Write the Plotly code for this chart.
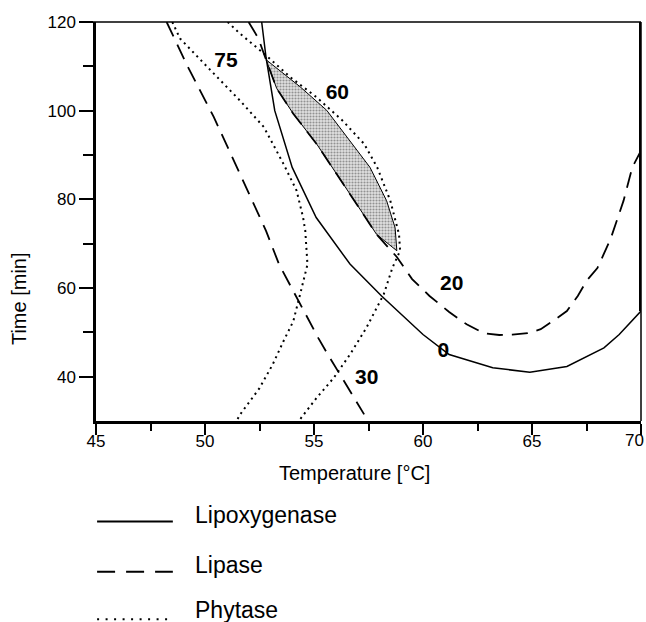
import plotly.graph_objects as go

# ---------------- data ----------------
lipox_T = [52.6, 52.7, 52.8, 53.2, 54.0, 55.1, 56.65, 58.1, 60.0, 61.2, 63.2, 64.9, 66.6, 68.3, 69.0, 70.0]
lipox_t = [120, 116, 112, 100, 87.2, 75.9, 65.4, 58.2, 49.5, 45.0, 42.0, 41.0, 42.3, 46.5, 49.5, 54.8]

lipase30_T = [48.24, 49.2, 50.4, 51.6, 52.8, 53.4, 54.2, 55.2, 55.6, 56.4, 57.3]
lipase30_t = [120, 110, 98.6, 85.7, 72.9, 65.3, 57.8, 48.7, 45.3, 38.9, 31.5]

lipase20_T = [52.0, 52.45, 52.8, 53.29, 54.05, 55.12, 56.04, 56.96, 57.87, 58.8, 59.5, 60.3, 61.2,
              62.0, 62.8, 63.5, 64.1, 64.8, 65.4, 66.0, 66.6, 67.1, 67.5, 68.0, 68.6, 69.2, 69.6, 70.0]
lipase20_t = [120, 116.3, 111.5, 105, 99.3, 92.5, 85.7, 78.9, 72.1, 67.0, 62.0, 58.2, 54.6,
              51.8, 49.8, 49.4, 49.5, 49.8, 50.7, 52.7, 54.8, 58.2, 61.6, 64.5, 71.0, 79.7, 87.2, 91.0]

phytase75_T = [48.5, 48.85, 50.1, 51.6, 52.7, 53.6, 54.2, 54.5, 54.6, 54.7, 54.4, 54.05, 53.6, 53.1, 52.5, 51.6, 51.45]
phytase75_t = [120, 116.3, 109.9, 102.3, 96.3, 88, 82, 75.9, 72.9, 65.3, 59.3, 52.5, 48, 42.7, 37.4, 31.4, 30]

phytase60_T = [51.04, 51.6, 52.7, 53.9, 55.1, 56.3, 57.3, 57.9, 58.5, 58.9, 58.95, 58.6, 58.2, 57.4, 56.65, 55.9, 55.1, 54.36, 54.3]
phytase60_t = [120, 117.4, 112.9, 107.6, 103.1, 97.8, 92.5, 87.2, 79.7, 72.1, 68.4, 64.6, 58.6, 51, 45, 39.7, 35.1, 30.6, 30]

region_T = [52.8, 54.36, 55.58, 56.65, 57.57, 58.33, 58.72, 58.8, 57.87, 56.96, 56.04, 55.12, 54.05, 53.29, 52.8]
region_t = [111.5, 105.4, 100.1, 93.3, 87.2, 79.7, 73.6, 68.4, 72.1, 78.9, 85.7, 92.5, 99.3, 105, 111.5]

edge_T = [70, 70]
edge_t = [54.8, 120]

label_text = ["75", "60", "20", "0", "30"]
label_T = [50.96, 56.07, 61.32, 60.93, 57.42]
label_t = [111.0, 103.85, 60.7, 45.55, 39.5]

x_ticks = [45, 50, 55, 60, 65, 70]
x_tick_text = ["45", "50", "55", "60", "65", ""]   # "70" placed separately (edge of page)
x_last_label = "70"
x_minor = [47.5, 52.5, 57.5, 62.5, 67.5]
y_ticks = [40, 60, 80, 100, 120]
y_minor = [50, 70, 90, 110]

legend_names = ["Lipoxygenase", "Lipase", "Phytase"]

# ---------------- figure ----------------
FONT = "Liberation Sans, Arial, sans-serif"
fig = go.Figure()

fig.add_trace(go.Scatter(
    x=region_T, y=region_t, mode="lines", fill="toself",
    fillcolor="#d0d0d0",
    fillpattern=dict(shape=".", fgcolor="#444444", bgcolor="#e0e0e0", size=3, solidity=0.4),
    line=dict(color="black", width=1), hoverinfo="skip", showlegend=False))

fig.add_trace(go.Scatter(x=lipox_T, y=lipox_t, mode="lines",
                         line=dict(color="black", width=1.5), showlegend=False))
fig.add_trace(go.Scatter(x=lipase30_T, y=lipase30_t, mode="lines",
                         line=dict(color="black", width=1.8, dash="16px,9px"), showlegend=False))
fig.add_trace(go.Scatter(x=lipase20_T, y=lipase20_t, mode="lines",
                         line=dict(color="black", width=1.8, dash="16px,9px"), showlegend=False))
fig.add_trace(go.Scatter(x=phytase75_T, y=phytase75_t, mode="lines",
                         line=dict(color="black", width=2, dash="2px,4px"), showlegend=False))
fig.add_trace(go.Scatter(x=phytase60_T, y=phytase60_t, mode="lines",
                         line=dict(color="black", width=2, dash="2px,4px"), showlegend=False))
fig.add_trace(go.Scatter(x=edge_T, y=edge_t, mode="lines",
                         line=dict(color="black", width=4), showlegend=False))

fig.add_trace(go.Scatter(x=label_T, y=label_t, mode="text", text=label_text,
                         textfont=dict(family=FONT, size=21, color="black", weight="bold"),
                         showlegend=False))

fig.update_layout(
    width=646, height=622,
    margin=dict(l=96, r=5, t=22, b=201),
    plot_bgcolor="white", paper_bgcolor="white",
    font=dict(family=FONT, color="black"),
    showlegend=False,
)
fig.update_xaxes(range=[45, 70], showgrid=False, zeroline=False,
                 showline=True, linecolor="black", linewidth=2.5,
                 ticks="outside", ticklen=11, tickwidth=1.5, tickcolor="black",
                 tickvals=x_ticks, ticktext=x_tick_text, ticklabelstandoff=-8,
                 tickfont=dict(size=17, family=FONT),
                 minor=dict(ticks="outside", ticklen=7, tickwidth=1.5, tickcolor="black", tickvals=x_minor))
fig.update_yaxes(range=[30, 120], showgrid=False, zeroline=False,
                 showline=True, linecolor="black", linewidth=2.5,
                 ticks="outside", ticklen=14, tickwidth=1.5, tickcolor="black",
                 tickvals=y_ticks, tickfont=dict(size=17, family=FONT),
                 minor=dict(ticks="outside", ticklen=10, tickwidth=1.5, tickcolor="black", tickvals=y_minor))

# "70" label at the page edge
fig.add_annotation(text=x_last_label, xref="x", yref="paper", x=x_ticks[-1], y=0,
                   xanchor="right", yanchor="middle", xshift=5, yshift=-19,
                   showarrow=False, font=dict(size=17, family=FONT))

# top and right frame lines
fig.add_shape(type="line", xref="paper", yref="paper", x0=-0.024, x1=1, y0=1, y1=1,
              line=dict(color="black", width=1.5))
fig.add_shape(type="line", xref="paper", yref="paper", x0=1, x1=1, y0=0, y1=1,
              line=dict(color="black", width=1.5))

# axis titles
fig.add_annotation(text="Time [min]", xref="paper", yref="paper", x=-0.141, y=0.306,
                   xanchor="center", yanchor="middle",
                   textangle=-90, showarrow=False, font=dict(size=20, family=FONT))
fig.add_annotation(text="Temperature [°C]", xref="paper", yref="paper", x=0.475, y=-0.130,
                   xanchor="center", yanchor="middle",
                   showarrow=False, font=dict(size=20, family=FONT))

# legend drawn below plot
leg_styles = ["solid", "18px,11px", "2px,6.5px"]
leg_line_y = [-0.252, -0.378, -0.497]
leg_text_y = [-0.236, -0.361, -0.473]
for name, dsh, ly, ty in zip(legend_names, leg_styles, leg_line_y, leg_text_y):
    fig.add_shape(type="line", xref="paper", yref="paper", x0=0.002, x1=0.141, y0=ly, y1=ly,
                  line=dict(color="black", width=2, dash=dsh))
    fig.add_annotation(text=name, xref="paper", yref="paper", x=0.178, y=ty,
                       xanchor="left", yanchor="middle", showarrow=False,
                       font=dict(size=23, family=FONT))

fig.write_html("out.html", config={"displayModeBar": False},
               post_script="document.body.style.margin='0';document.body.style.overflow='hidden';")
